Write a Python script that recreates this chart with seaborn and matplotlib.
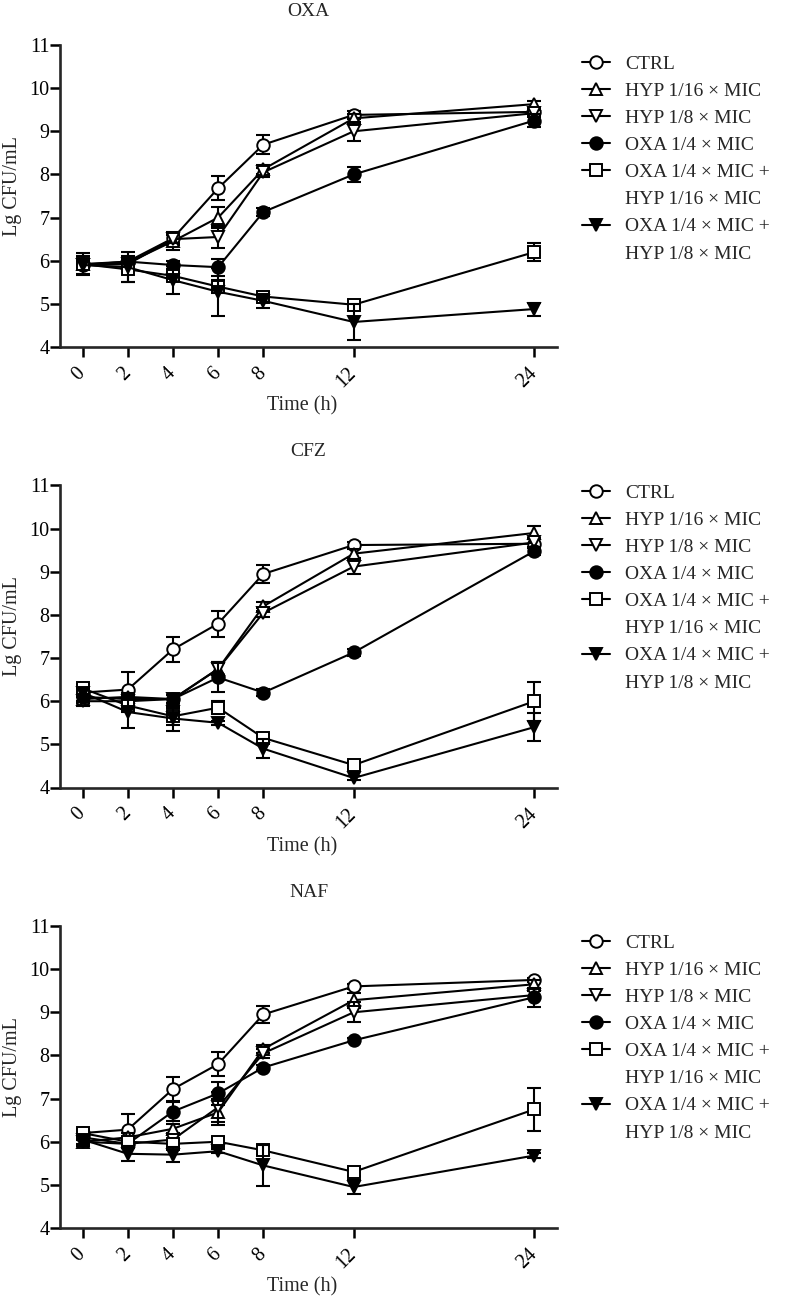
import numpy as np
import matplotlib
matplotlib.use("Agg")
import matplotlib.pyplot as plt
from matplotlib.lines import Line2D
import seaborn as sns

# ---------------- data ----------------
TIMES = [0, 2, 4, 6, 8, 12, 24]
XTICK_LABELS = ["0", "2", "4", "6", "8", "12", "24"]
SERIES = ["CTRL", "HYP 1/16 × MIC", "HYP 1/8 × MIC", "OXA 1/4 × MIC",
          "OXA 1/4 × MIC +\nHYP 1/16 × MIC", "OXA 1/4 × MIC +\nHYP 1/8 × MIC"]
PANELS = ["OXA", "CFZ", "NAF"]

OXA_MEAN = [
    [5.90, 5.98, 6.52, 7.68, 8.69, 9.38, 9.45],
    [5.92, 5.95, 6.45, 7.00, 8.12, 9.30, 9.63],
    [5.90, 5.92, 6.50, 6.55, 8.05, 9.00, 9.42],
    [5.92, 5.98, 5.90, 5.85, 7.13, 8.00, 9.25],
    [5.92, 5.80, 5.65, 5.40, 5.17, 4.98, 6.20],
    [5.90, 5.85, 5.55, 5.28, 5.07, 4.58, 4.88],
]
OXA_SD = [
    [0.10, 0.10, 0.15, 0.28, 0.22, 0.10, 0.10],
    [0.10, 0.10, 0.20, 0.25, 0.10, 0.10, 0.08],
    [0.10, 0.10, 0.10, 0.25, 0.10, 0.22, 0.10],
    [0.10, 0.10, 0.10, 0.20, 0.10, 0.17, 0.15],
    [0.25, 0.30, 0.10, 0.15, 0.10, 0.10, 0.20],
    [0.20, 0.35, 0.33, 0.55, 0.17, 0.42, 0.15],
]
CFZ_MEAN = [
    [6.20, 6.27, 7.20, 7.80, 8.95, 9.62, 9.65],
    [6.05, 6.10, 6.05, 6.75, 8.20, 9.42, 9.90],
    [6.00, 6.00, 6.05, 6.75, 8.05, 9.12, 9.68],
    [6.10, 6.05, 6.05, 6.55, 6.20, 7.13, 9.48],
    [6.30, 5.90, 5.65, 5.85, 5.15, 4.52, 6.00],
    [6.20, 5.75, 5.60, 5.50, 4.90, 4.22, 5.40],
]
CFZ_SD = [
    [0.10, 0.40, 0.30, 0.30, 0.20, 0.08, 0.10],
    [0.10, 0.10, 0.10, 0.15, 0.10, 0.10, 0.15],
    [0.10, 0.10, 0.10, 0.15, 0.10, 0.18, 0.10],
    [0.10, 0.10, 0.10, 0.33, 0.08, 0.08, 0.08],
    [0.10, 0.15, 0.20, 0.15, 0.10, 0.10, 0.45],
    [0.10, 0.38, 0.30, 0.05, 0.22, 0.05, 0.32],
]
NAF_MEAN = [
    [6.20, 6.28, 7.22, 7.80, 8.95, 9.60, 9.75],
    [6.00, 6.10, 6.30, 6.68, 8.15, 9.28, 9.65],
    [6.00, 5.95, 6.05, 6.80, 8.05, 9.00, 9.40],
    [6.10, 5.95, 6.70, 7.12, 7.72, 8.35, 9.35],
    [6.20, 6.00, 5.95, 6.00, 5.80, 5.30, 6.75],
    [6.05, 5.72, 5.70, 5.78, 5.45, 4.95, 5.68],
]
NAF_SD = [
    [0.05, 0.37, 0.27, 0.28, 0.20, 0.05, 0.05],
    [0.10, 0.10, 0.10, 0.30, 0.10, 0.17, 0.10],
    [0.10, 0.10, 0.10, 0.35, 0.10, 0.23, 0.10],
    [0.05, 0.10, 0.22, 0.26, 0.05, 0.05, 0.22],
    [0.10, 0.10, 0.10, 0.10, 0.10, 0.10, 0.50],
    [0.10, 0.17, 0.18, 0.05, 0.48, 0.17, 0.05],
]

# ---------------- style ----------------
MARKERS = ["o", "^", "v", "o", "s", "v"]
FACES = ["white", "white", "white", "black", "white", "black"]

sns.set_theme(style="ticks")
plt.rcParams["font.family"] = ["Liberation Serif", "DejaVu Serif"]
plt.rcParams["axes.linewidth"] = 1.9

K = 2.0 / 3.0


def fwd(x):
    x = np.asarray(x, dtype=float)
    return np.where(x <= 12, x, 12 + (x - 12) * K)


def inv(y):
    y = np.asarray(y, dtype=float)
    return np.where(y <= 12, y, 12 + (y - 12) / K)


W, H = 787, 1298
fig = plt.figure(figsize=(W / 100, H / 100), dpi=100)

axes_px = [(45, 347), (485.5, 787.5), (926, 1228)]
legend_top = [55, 484, 934]
data_sets = [(OXA_MEAN, OXA_SD), (CFZ_MEAN, CFZ_SD), (NAF_MEAN, NAF_SD)]

for p, name in enumerate(PANELS):
    top, bot = axes_px[p]
    ax = fig.add_axes([60 / W, 1 - bot / H, 497 / W, (bot - top) / H])
    ax.set_xscale("function", functions=(fwd, inv))
    means, sds = data_sets[p]
    for i in range(len(SERIES)):
        ax.errorbar(TIMES, means[i], yerr=sds[i], fmt="none", ecolor="black",
                    elinewidth=1.5, capsize=4.7, capthick=1.5, zorder=2 + i)
        sns.lineplot(x=TIMES, y=means[i], ax=ax, color="black", linewidth=1.5,
                     marker=MARKERS[i], markersize=9, markerfacecolor=FACES[i],
                     markeredgecolor="black", markeredgewidth=1.4,
                     zorder=2.5 + i, legend=False)
    ax.set_xlim(-1.0, 25.5)
    ax.set_ylim(4, 11)
    ax.set_yticks(range(4, 12))
    ax.set_xticks(TIMES)
    ax.set_xticklabels(XTICK_LABELS, rotation=45, ha="right", va="center",
                       rotation_mode="anchor")
    ax.xaxis.set_minor_locator(matplotlib.ticker.NullLocator())
    sns.despine(ax=ax)
    ax.spines["left"].set_bounds(4, 11)
    ax.tick_params(axis="both", direction="out", length=7, width=1.8,
                   color="black", labelsize=14.5, labelcolor="black")
    ax.tick_params(axis="y", pad=0.5)
    ax.tick_params(axis="x", pad=10)
    ax.set_xlabel("Time (h)", fontsize=14.5, va="center")
    ax.xaxis.set_label_coords(0.487, -0.195)
    ax.set_ylabel("Lg CFU/mL", fontsize=14.5, va="center")
    ax.yaxis.set_label_coords(-0.095, 0.533)
    ax.text(0.5, 1.112, name, transform=ax.transAxes, ha="center", va="center",
            fontsize=14)
    ax.set_facecolor("white")
    ax.grid(False)

    handles, labels = [], []
    for i, lab in enumerate(SERIES):
        lines = lab.split("\n")
        handles.append(Line2D([0], [0], color="black", linewidth=1.5,
                              marker=MARKERS[i], markersize=9,
                              markerfacecolor=FACES[i], markeredgecolor="black",
                              markeredgewidth=1.4))
        labels.append(lines[0])
        for extra in lines[1:]:
            handles.append(Line2D([], [], linestyle="none", marker=None))
            labels.append(extra)
    fig.legend(handles, labels, loc="upper left",
               bbox_to_anchor=(582 / W, 1 - legend_top[p] / H),
               frameon=False, borderpad=0, borderaxespad=0,
               handlelength=1.44, handletextpad=0.77, labelspacing=0.49,
               fontsize=14)

fig.savefig("out.png", dpi=100, facecolor="white")
